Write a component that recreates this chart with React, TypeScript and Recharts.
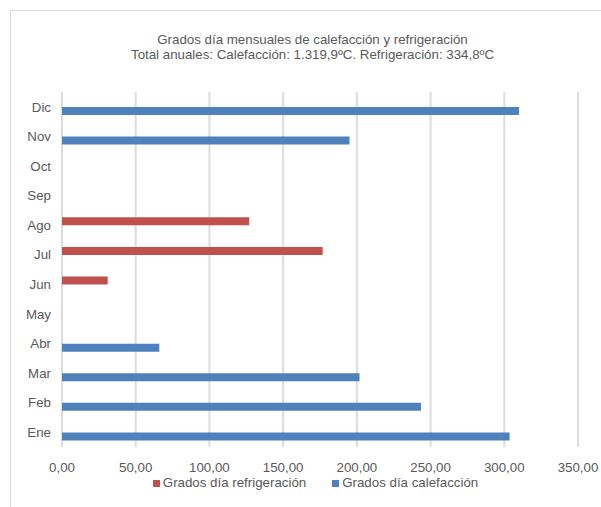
import React from 'react';
import { BarChart, Bar, XAxis, YAxis, CartesianGrid } from 'recharts';

const months = ['Ene', 'Feb', 'Mar', 'Abr', 'May', 'Jun', 'Jul', 'Ago', 'Sep', 'Oct', 'Nov', 'Dic'];
const heating = [303.6, 243.5, 201.8, 66.0, 0, 0, 0, 0, 0, 0, 195.0, 310.0];
const cooling = [0, 0, 0, 0, 0, 31.0, 176.8, 127.0, 0, 0, 0, 0];
const xTicks = [0, 50, 100, 150, 200, 250, 300, 350];

const titleLines = [
  'Grados día mensuales de calefacción y refrigeración',
  'Total anuales: Calefacción: 1.319,9ºC. Refrigeración: 334,8ºC',
];

const series = [
  { key: 'refrigeracion', name: 'Grados día refrigeración', color: '#C0504D' },
  { key: 'calefaccion', name: 'Grados día calefacción', color: '#4F81BD' },
];

const data = months.map((m, i) => ({
  month: m,
  refrigeracion: cooling[i],
  calefaccion: heating[i],
}));

const TEXT = '#595959';
const FONT = '"Liberation Sans", Arial, sans-serif';

const fmt = (v: number) => v.toFixed(2).replace('.', ',');

export default function App() {
  return (
    <div
      style={{
        position: 'absolute',
        top: 0,
        left: 0,
        width: 601,
        height: 507,
        overflow: 'hidden',
        background: '#fff',
        fontFamily: FONT,
      }}
    >
      <div
        style={{
          position: 'absolute',
          left: 10,
          top: 10,
          width: 620,
          height: 520,
          border: '1px solid #d9d9d9',
        }}
      />
      <div
        style={{
          position: 'absolute',
          top: 32,
          left: 0,
          width: 625,
          textAlign: 'center',
          color: TEXT,
          fontSize: 13.3,
          lineHeight: '15px',
        }}
      >
        {titleLines.map((t) => (
          <div key={t}>{t}</div>
        ))}
      </div>
      <div style={{ position: 'absolute', top: 0, left: 0 }}>
        <BarChart
          width={601}
          height={507}
          data={data}
          layout="vertical"
          margin={{ top: 92, right: 23, left: 12, bottom: 30 }}
          barSize={8}
          barGap={0}
        >
          <CartesianGrid horizontal={false} stroke="#dcdcdc" strokeWidth={2} />
          <XAxis
            type="number"
            domain={[0, 350]}
            ticks={xTicks}
            tickFormatter={fmt}
            axisLine={false}
            tickLine={false}
            tickMargin={10}
            height={30}
            tick={{ fill: TEXT, fontSize: 13.3, fontFamily: FONT }}
            interval={0}
          />
          <YAxis
            type="category"
            dataKey="month"
            reversed
            width={50}
            axisLine={false}
            tickLine={false}
            tickMargin={5}
            interval={0}
            tick={{ fill: TEXT, fontSize: 13.3, fontFamily: FONT }}
          />
          {series.map((s) => (
            <Bar key={s.key} dataKey={s.key} name={s.name} fill={s.color} isAnimationActive={false} />
          ))}
        </BarChart>
      </div>
      <div
        style={{
          position: 'absolute',
          top: 475,
          left: 0,
          width: 631,
          display: 'flex',
          justifyContent: 'center',
          gap: 26,
          color: TEXT,
          fontSize: 13.3,
          lineHeight: '16px',
        }}
      >
        {series.map((s) => (
          <div key={s.key} style={{ display: 'flex', alignItems: 'center' }}>
            <span style={{ width: 7, height: 7, background: s.color, marginRight: 3 }} />
            <span>{s.name}</span>
          </div>
        ))}
      </div>
    </div>
  );
}
